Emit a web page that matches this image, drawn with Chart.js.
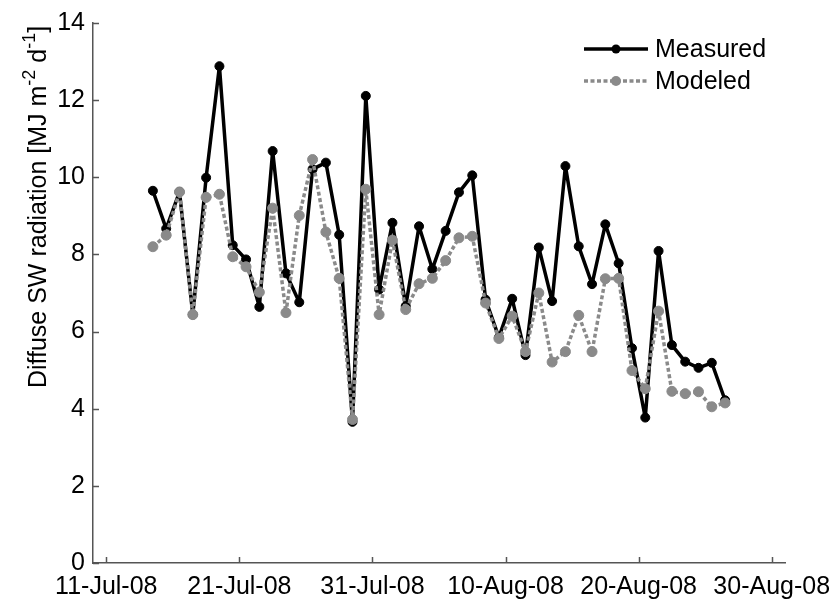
<!DOCTYPE html>
<html>
<head>
<meta charset="utf-8">
<script src="https://cdn.jsdelivr.net/npm/chart.js@4.4.1/dist/chart.umd.min.js"></script>
<style>
    html, body { margin: 0; padding: 0; background: #fff; }
</style>
</head>
<body>
<canvas id="chart" width="836" height="602"></canvas>
<script>
    // Daily values, 14-Jul-08 .. 26-Aug-08
    const dates = [
        '2008-07-14', '2008-07-15', '2008-07-16', '2008-07-17', '2008-07-18', '2008-07-19',
        '2008-07-20', '2008-07-21', '2008-07-22', '2008-07-23', '2008-07-24', '2008-07-25',
        '2008-07-26', '2008-07-27', '2008-07-28', '2008-07-29', '2008-07-30', '2008-07-31',
        '2008-08-01', '2008-08-02', '2008-08-03', '2008-08-04', '2008-08-05', '2008-08-06',
        '2008-08-07', '2008-08-08', '2008-08-09', '2008-08-10', '2008-08-11', '2008-08-12',
        '2008-08-13', '2008-08-14', '2008-08-15', '2008-08-16', '2008-08-17', '2008-08-18',
        '2008-08-19', '2008-08-20', '2008-08-21', '2008-08-22', '2008-08-23', '2008-08-24',
        '2008-08-25', '2008-08-26'
    ];
    const measured = [
        9.65, 8.67, 9.62, 6.44, 9.99, 12.88, 8.24, 7.87, 6.64, 10.68, 7.51, 6.76,
        10.21, 10.38, 8.51, 3.66, 12.11, 7.09, 8.82, 6.66, 8.73, 7.62, 8.61, 9.61,
        10.05, 6.83, 5.85, 6.85, 5.39, 8.18, 6.79, 10.29, 8.21, 7.23, 8.78, 7.77,
        5.57, 3.77, 8.09, 5.65, 5.22, 5.06, 5.19, 4.22
    ];
    const modeled = [
        8.20, 8.50, 9.62, 6.44, 9.48, 9.56, 7.94, 7.68, 7.02, 9.20, 6.49, 9.01,
        10.46, 8.58, 7.38, 3.72, 9.69, 6.44, 8.37, 6.57, 7.24, 7.38, 7.84, 8.43,
        8.47, 6.74, 5.82, 6.40, 5.48, 7.00, 5.21, 5.48, 6.42, 5.48, 7.37, 7.38,
        4.99, 4.52, 6.53, 4.45, 4.39, 4.44, 4.05, 4.15
    ];
    const xTickDates = ['2008-07-11', '2008-07-21', '2008-07-31', '2008-08-10', '2008-08-20', '2008-08-30'];
    const xTickLabels = ['11-Jul-08', '21-Jul-08', '31-Jul-08', '10-Aug-08', '20-Aug-08', '30-Aug-08'];

    const FONT = 'Liberation Sans, Arial, sans-serif';
    const FONT_SIZE = 25;
    const AXIS_COLOR = '#555';

    // days since 11-Jul-08; daily values sit at noon
    function dayNum(s) {
        const p = s.split('-').map(Number);
        return (Date.UTC(p[0], p[1] - 1, p[2]) - Date.UTC(2008, 6, 11)) / 86400000;
    }
    const xTickDays = xTickDates.map(dayNum);
    const toPoints = vals => vals.map((v, i) => ({ x: dayNum(dates[i]) + 0.5, y: v }));

    /**
     * Inward ticks, y label with superscripts, MATLAB-like legend
     */
    const decorations = {
        id: 'decorations',
        afterDraw: function(chart) {
            const ctx = chart.ctx;
            const area = chart.chartArea;
            const xs = chart.scales.x;
            const ys = chart.scales.y;

            ctx.save();
            ctx.strokeStyle = AXIS_COLOR;
            ctx.lineWidth = 1.5;
            ctx.beginPath();
            xs.ticks.forEach(function(t) {
                const px = Math.round(xs.getPixelForValue(t.value)) + 0.5;
                ctx.moveTo(px, area.bottom);
                ctx.lineTo(px, area.bottom - 6);
            });
            ys.ticks.forEach(function(t) {
                const py = Math.round(ys.getPixelForValue(t.value)) + 0.5;
                ctx.moveTo(area.left, py);
                ctx.lineTo(area.left + 6, py);
            });
            ctx.stroke();
            ctx.restore();

            // y axis title
            const parts = [
                ['Diffuse SW radiation [MJ m', false],
                ['-2', true],
                [' d', false],
                ['-1', true],
                [']', false]
            ];
            const supSize = Math.round(FONT_SIZE * 0.7);
            ctx.save();
            ctx.fillStyle = '#000';
            ctx.textBaseline = 'alphabetic';
            ctx.textAlign = 'left';
            let total = 0;
            parts.forEach(function(p) {
                ctx.font = (p[1] ? supSize : FONT_SIZE) + 'px ' + FONT;
                total += ctx.measureText(p[0]).width;
            });
            ctx.translate(46, 207);
            ctx.rotate(-Math.PI / 2);
            let cx = -total / 2;
            parts.forEach(function(p) {
                ctx.font = (p[1] ? supSize : FONT_SIZE) + 'px ' + FONT;
                ctx.fillText(p[0], cx, p[1] ? -FONT_SIZE * 0.45 : 0);
                cx += ctx.measureText(p[0]).width;
            });
            ctx.restore();

            // legend
            const rows = [49, 81];
            ctx.save();
            chart.data.datasets.forEach(function(ds, i) {
                const y = rows[i];
                ctx.strokeStyle = ds.borderColor;
                ctx.lineWidth = ds.borderWidth;
                ctx.setLineDash(ds.borderDash || []);
                ctx.beginPath();
                ctx.moveTo(584, y);
                ctx.lineTo(648, y);
                ctx.stroke();
                ctx.setLineDash([]);
                ctx.fillStyle = ds.pointBackgroundColor;
                ctx.beginPath();
                ctx.arc(616, y, ds.pointRadius, 0, Math.PI * 2);
                ctx.fill();
                ctx.fillStyle = '#000';
                ctx.font = FONT_SIZE + 'px ' + FONT;
                ctx.textBaseline = 'middle';
                ctx.fillText(ds.label, 655, y + 1);
            });
            ctx.restore();
        }
    };

    new Chart(document.getElementById('chart'), {
        type: 'line',
        data: {
            datasets: [{
                label: 'Measured',
                data: toPoints(measured),
                borderColor: '#000',
                borderWidth: 3.5,
                borderJoinStyle: 'round',
                pointRadius: 4.5,
                pointBackgroundColor: '#000',
                pointBorderColor: '#000',
                pointBorderWidth: 1,
                tension: 0,
                order: 1
            }, {
                label: 'Modeled',
                data: toPoints(modeled),
                borderColor: '#8a8a8a',
                borderWidth: 3.5,
                borderDash: [4, 2.5],
                borderJoinStyle: 'round',
                pointRadius: 5,
                pointBackgroundColor: '#8a8a8a',
                pointBorderColor: '#8a8a8a',
                pointBorderWidth: 1,
                tension: 0,
                order: 0
            }]
        },
        options: {
            responsive: false,
            animation: false,
            devicePixelRatio: 1,
            layout: {
                padding: { left: 0, top: 17, right: 51, bottom: 0 }
            },
            plugins: {
                legend: { display: false },
                tooltip: { enabled: false }
            },
            scales: {
                x: {
                    type: 'linear',
                    min: -1,
                    max: 51,
                    afterBuildTicks: function(scale) {
                        scale.ticks = xTickDays.map(v => ({ value: v }));
                    },
                    afterFit: function(scale) {
                        scale.height = 39;
                        // let the last label overhang into the right margin
                        scale.paddingLeft = 0;
                        scale.paddingRight = 0;
                    },
                    grid: { display: false, drawTicks: false },
                    border: { display: true, color: AXIS_COLOR, width: 1.5 },
                    ticks: {
                        autoSkip: false,
                        maxRotation: 0,
                        padding: 9,
                        color: '#000',
                        font: { family: FONT, size: FONT_SIZE },
                        callback: function(value, index) {
                            return xTickLabels[index];
                        }
                    }
                },
                y: {
                    min: 0,
                    max: 14,
                    afterFit: function(scale) {
                        scale.width = 93;
                    },
                    grid: { display: false, drawTicks: false },
                    border: { display: true, color: AXIS_COLOR, width: 1.5 },
                    ticks: {
                        stepSize: 2,
                        padding: 8,
                        color: '#000',
                        font: { family: FONT, size: FONT_SIZE }
                    }
                }
            }
        },
        plugins: [decorations]
    });
</script>
</body>
</html>
